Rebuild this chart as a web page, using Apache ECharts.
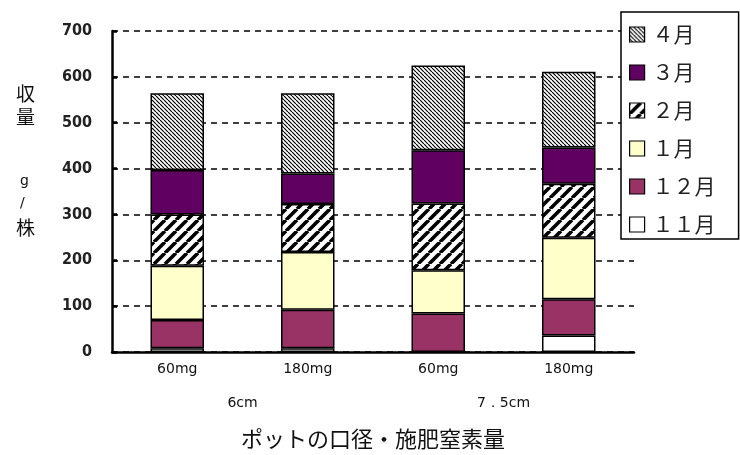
<!DOCTYPE html>
<html>
<head>
<meta charset="utf-8">
<script src="https://cdn.jsdelivr.net/npm/echarts@6/dist/echarts.min.js"></script>
<style>
  html, body { margin: 0; padding: 0; background: #fff; }
  #chart { width: 740px; height: 455px; }
</style>
</head>
<body>
<div id="chart"></div>
<script>
// Pot diameter / nitrogen dose categories
const categories = ['60mg', '180mg', '60mg', '180mg'];
const potSizes = ['6cm', '7．5cm'];
const yTicks = [0, 100, 200, 300, 400, 500, 600, 700];

// Monthly yield (g per plant), stacked bottom to top
const nov = [8, 8, 0, 36];
const dec = [62, 84, 84, 79];
const jan = [118, 126, 94, 134];
const feb = [112, 105, 146, 118];
const mar = [97, 66, 116, 79];
const apr = [167, 175, 185, 165];

// Diagonal hatch fill drawn onto a small repeating canvas tile
function hatch(size, width, forward) {
  const c = document.createElement('canvas');
  c.width = size; c.height = size;
  const g = c.getContext('2d');
  g.fillStyle = '#fff';
  g.fillRect(0, 0, size, size);
  g.strokeStyle = '#000';
  g.lineWidth = width;
  g.beginPath();
  for (let k = -1; k <= 1; k++) {
    if (forward) {
      g.moveTo(k * size, size); g.lineTo(k * size + size, 0);
    } else {
      g.moveTo(k * size, 0); g.lineTo(k * size + size, size);
    }
  }
  g.stroke();
  return { image: c, repeat: 'repeat' };
}

const fineHatch = hatch(4, 1.2, false);
const boldHatch = hatch(11, 3.6, true);

const numFont = '"DejaVu Sans Condensed", "Liberation Sans Narrow", sans-serif';
const labelFont = '"DejaVu Sans", sans-serif';
const cjkFont = '"Noto Sans CJK JP", sans-serif';

function bar(name, data, color) {
  return {
    name: name,
    type: 'bar',
    stack: 'yield',
    data: data,
    barWidth: '41%',
    itemStyle: { color: color, borderColor: '#000', borderWidth: 1.5 },
    emphasis: { disabled: true }
  };
}

const chart = echarts.init(document.getElementById('chart'), null, { renderer: 'canvas' });
chart.setOption({
  animation: false,
  backgroundColor: '#fff',
  grid: { left: 112, right: 106, top: 31, bottom: 103 },
  legend: {
    orient: 'vertical',
    left: 621,
    top: 12,
    padding: [12, 23, 4, 8],
    itemGap: 17,
    itemWidth: 15,
    itemHeight: 15,
    borderColor: '#000',
    borderWidth: 1.5,
    backgroundColor: '#fff',
    icon: 'rect',
    data: ['４月', '３月', '２月', '１月', '１２月', '１１月'],
    itemStyle: { borderColor: '#000', borderWidth: 1.2 },
    textStyle: { fontFamily: cjkFont, fontSize: 21, color: '#222', padding: [0, 0, 0, 3] }
  },
  xAxis: [
    {
      type: 'category',
      data: categories,
      axisLine: { lineStyle: { color: '#000', width: 2.5 } },
      axisTick: { show: false },
      axisLabel: { fontFamily: labelFont, fontSize: 14, color: '#111', margin: 10 },
      name: 'ポットの口径・施肥窒素量',
      nameLocation: 'middle',
      nameGap: 76,
      nameTextStyle: { fontFamily: cjkFont, fontSize: 22, color: '#111' }
    },
    {
      type: 'category',
      data: potSizes,
      position: 'bottom',
      offset: 36,
      axisLine: { show: false },
      axisTick: { show: false },
      axisLabel: { fontFamily: labelFont, fontSize: 14, color: '#111', margin: 8 }
    }
  ],
  yAxis: {
    type: 'value',
    min: yTicks[0],
    max: yTicks[yTicks.length - 1],
    interval: 100,
    axisLine: { show: true, lineStyle: { color: '#000', width: 2.5 } },
    axisTick: { show: true, inside: true, length: 5, lineStyle: { color: '#000', width: 2.5 } },
    axisLabel: { fontFamily: numFont, fontSize: 16, fontWeight: 'bold', color: '#222', margin: 20 },
    splitLine: { show: true, lineStyle: { color: '#000', width: 1.5, type: [6, 5] } }
  },
  graphic: [
    {
      type: 'text',
      left: 16,
      top: 82,
      style: { text: '収\n量', fontFamily: cjkFont, fontSize: 19, lineHeight: 23, fill: '#111' }
    },
    {
      type: 'text',
      left: 20,
      top: 170,
      style: { text: 'g\n/', fontFamily: labelFont, fontSize: 14, lineHeight: 22, fill: '#111' }
    },
    {
      type: 'text',
      left: 16,
      top: 218,
      style: { text: '株', fontFamily: cjkFont, fontSize: 19, fill: '#111' }
    }
  ],
  series: [
    bar('１１月', nov, '#ffffff'),
    bar('１２月', dec, '#993366'),
    bar('１月', jan, '#ffffcc'),
    bar('２月', feb, boldHatch),
    bar('３月', mar, '#600060'),
    bar('４月', apr, fineHatch)
  ]
});
</script>
</body>
</html>
